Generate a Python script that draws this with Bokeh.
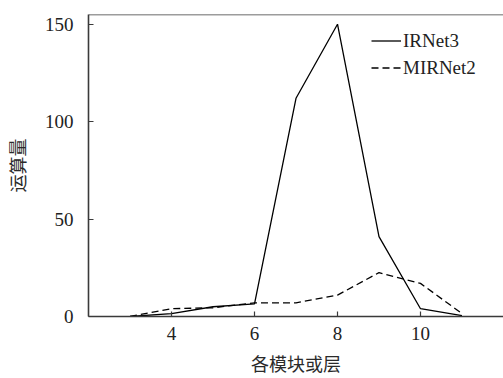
from bokeh.plotting import figure
from bokeh.models import Range1d, FixedTicker, Legend, LegendItem, Span
from bokeh.embed import file_html
from bokeh.resources import INLINE

# Data
layers = [3, 4, 5, 6, 7, 8, 9, 10, 11]
irnet3 = [0, 1.5, 5, 6.5, 112, 150, 41, 4, 0.5]
mirnet2 = [0, 4, 4.5, 7, 7, 11, 22.5, 17, 1.5]
x_ticks = [4, 6, 8, 10]
y_ticks = [0, 50, 100, 150]
series_names = ["IRNet3", "MIRNet2"]
x_label = "各模块或层"
y_label = "运算量"

AXIS_COLOR = "#3a3a3a"
SERIF = "Liberation Serif"
CJK = "Noto Sans CJK SC"

p = figure(width=503, height=378, output_backend="svg", toolbar_location=None,
           x_range=Range1d(2, 12), y_range=Range1d(0, 155),
           min_border_left=88, min_border_right=0, min_border_top=14,
           min_border_bottom=62)
p.outline_line_color = None
p.grid.visible = False
p.background_fill_color = "white"
p.border_fill_color = "white"

r1 = p.line(layers, irnet3, line_color="black", line_width=1.3)
r2 = p.line(layers, mirnet2, line_color="black", line_width=1.3, line_dash="7 4")

for ax in (p.xaxis[0], p.yaxis[0]):
    ax.axis_line_color = AXIS_COLOR
    ax.axis_line_width = 1.6
    ax.major_tick_line_color = AXIS_COLOR
    ax.major_tick_line_width = 1.2
    ax.major_tick_in = 5
    ax.major_tick_out = 0
    ax.minor_tick_line_color = None
    ax.major_label_text_font = SERIF
    ax.major_label_text_font_size = "19px"
    ax.major_label_text_color = "#222222"
    ax.axis_label_text_font = CJK
    ax.axis_label_text_font_size = "18px"
    ax.axis_label_text_font_style = "normal"
    ax.axis_label_text_color = "#2a2a2a"

p.xaxis.ticker = FixedTicker(ticks=x_ticks)
p.yaxis.ticker = FixedTicker(ticks=y_ticks)
p.xaxis.axis_label = x_label
p.yaxis.axis_label = y_label
p.xaxis.major_label_standoff = 10
p.xaxis.axis_label_standoff = 7
p.yaxis.major_label_standoff = 15
p.yaxis.axis_label_standoff = 12

top_line = Span(location=155, dimension="width", line_color=AXIS_COLOR, line_width=1.6)
p.add_layout(top_line)

legend = Legend(items=[LegendItem(label=series_names[0], renderers=[r1]),
                       LegendItem(label=series_names[1], renderers=[r2])],
                location=(283, 235))
legend.background_fill_alpha = 0
legend.border_line_color = None
legend.padding = 0
legend.margin = 0
legend.spacing = 0
legend.glyph_width = 30
legend.glyph_height = 27
legend.label_height = 27
legend.label_standoff = 2
legend.label_text_font = SERIF
legend.label_text_font_size = "19px"
legend.label_text_color = "#222222"
p.add_layout(legend)

open("out.html", "w").write(file_html(p, INLINE))
